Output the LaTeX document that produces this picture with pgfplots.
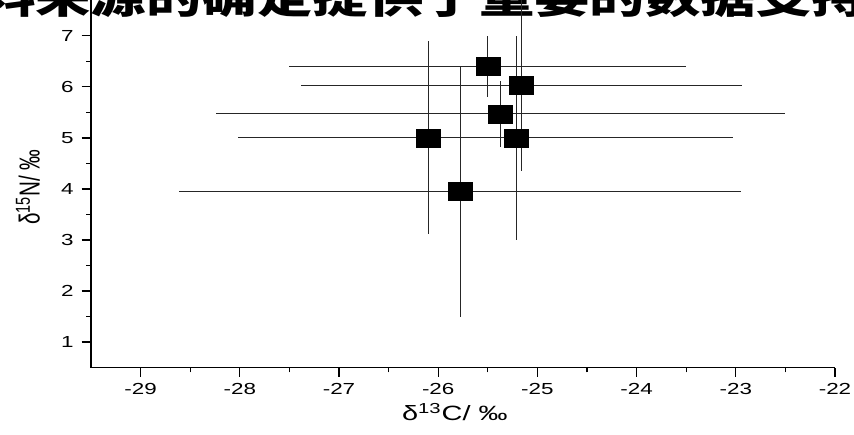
\documentclass[border=0pt]{standalone}
\usepackage{fontspec}
\setmainfont{Liberation Sans}
\newfontfamily\cjk{Noto Sans CJK SC}
\usepackage{pgfplots}
\usepackage{pgfplotstable}
\pgfplotsset{compat=1.18}

% isotope means with 1 sd: x = d13C, y = d15N
\pgfplotstableread{
x       y     ex    ey
-26.10  5.00  1.92  1.89
-25.78  3.95  2.83  2.45
-25.50  6.40  2.00  0.60
-25.16  6.03  2.22  1.67
-25.37  5.47  2.87  0.65
-25.21  5.00  2.18  2.00
}\isodata

% the source figure is stretched sideways, so is its text
\newcommand{\wide}[1]{\scalebox{1.4}[1]{#1}}

\begin{document}
\begin{tikzpicture}
% cut-off line of body text above the figure
\node[anchor=base west, inner sep=0pt, font=\cjk\bfseries\fontsize{30.8pt}{32pt}\selectfont]
  at (-83.4pt,265.6pt) {\scalebox{1.35}[1]{料来源的确定提供了重要的数据支持}};
\begin{axis}[name=ax, at={(0,0)}, anchor=south west,
  scale only axis, width=558pt, height=275.75pt,
  axis lines=left, axis line style={-, line width=1.1pt},
  xmin=-29.5, xmax=-22, ymin=0.5, ymax=7.7,
  xtick={-29,-28,...,-22}, ytick={1,2,...,7},
  minor tick num=1, tick align=outside,
  major tick length=7pt, minor tick length=3.5pt,
  tick style={line width=1pt, black},
  /pgf/number format/assume math mode=true,
  tick label style={font=\fontsize{12pt}{14pt}\selectfont},
  xticklabel style={yshift=-1.5pt},
  yticklabel style={xshift=-2.5pt},
  xticklabel={\wide{\axisdefaultticklabel}},
  yticklabel={\wide{\axisdefaultticklabel}},
  label style={font=\fontsize{15.5pt}{17pt}\selectfont},
  xlabel={\wide{δ\textsuperscript{13}C/ ‰}},
  ylabel={\scalebox{1}[1.4]{δ\textsuperscript{15}N/ ‰}},
  xlabel style={at={(axis description cs:0.489,0)}, anchor=base, yshift=-39.5pt},
  ylabel style={at={(axis description cs:-0.0847,0.491)}, anchor=center},
  clip=false]
  \addplot[only marks, black, mark=square*, mark size=6.75pt,
    mark options={xscale=1.333, fill=black},
    error bars/.cd, x dir=both, x explicit, y dir=both, y explicit,
    error mark=none, error bar style={line width=0.75pt, black!85}]
    table[x=x, y=y, x error=ex, y error=ey] {\isodata};
\end{axis}
\pgfresetboundingbox
\useasboundingbox (-68.25pt,-50.5pt) rectangle (572.25pt,275.75pt);
\end{tikzpicture}
\end{document}
